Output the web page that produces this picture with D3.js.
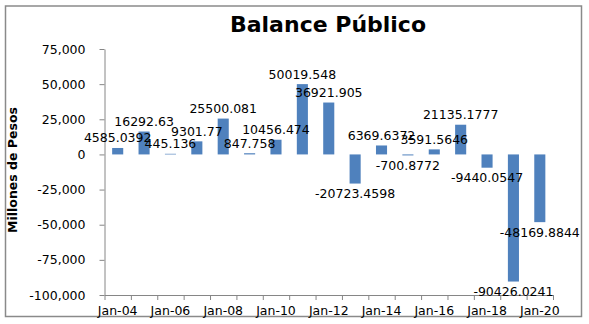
<!DOCTYPE html>
<html>
<head>
<meta charset="utf-8">
<script src="https://cdn.jsdelivr.net/npm/d3@7"></script>
<style>
  html, body { margin: 0; padding: 0; background: #fff; }
  svg { display: block; }
  text { font-family: "DejaVu Sans", Verdana, sans-serif; fill: #000; }
</style>
</head>
<body>
<svg id="chart" width="589" height="324"></svg>
<script>
// Annual public balance, millions of pesos
const years = [2004, 2005, 2006, 2007, 2008, 2009, 2010, 2011, 2012,
               2013, 2014, 2015, 2016, 2017, 2018, 2019, 2020];
const balance = [4585.0392, 16292.63, 445.136, 9301.77, 25500.081, 847.758,
                 10456.474, 50019.548, 36921.905, -20723.4598, 6369.6372,
                 -700.8772, 3591.5646, 21135.1777, -9440.0547, -90426.0241,
                 -48169.8844];
const yTicks = [-100000, -75000, -50000, -25000, 0, 25000, 50000, 75000];
const labelYears = [2004, 2006, 2008, 2010, 2012, 2014, 2016, 2018, 2020];

const title = "Balance Público";
const yTitle = "Millones de Pesos";

const svg = d3.select("#chart");
const axisColor = "#868686";
const barColor = "#4F81BD";

const plot = { left: 104.5, right: 553, top: 49, bottom: 295 };

// chart frame
svg.append("rect")
  .attr("x", 5.5).attr("y", 6)
  .attr("width", 576).attr("height", 310.5)
  .attr("fill", "#fff")
  .attr("stroke", "#8a8a8a")
  .attr("stroke-width", 1.5);

const x = d3.scaleBand()
  .domain(years)
  .range([plot.left, plot.right])
  .paddingInner(0.58)
  .paddingOuter(0.29);

const xEdge = d3.scaleLinear()
  .domain([years[0], years[years.length - 1] + 1])
  .range([plot.left, plot.right]);

const y = d3.scaleLinear()
  .domain([yTicks[0], yTicks[yTicks.length - 1]])
  .range([plot.bottom, plot.top]);

const fmt = v => d3.format(",")(v).replace("\u2212", "-");

// y axis
const gy = svg.append("g")
  .attr("transform", `translate(${plot.left},0)`)
  .call(d3.axisLeft(y).tickValues(yTicks).tickFormat(fmt)
    .tickSize(5).tickSizeOuter(0).tickPadding(14));
gy.selectAll("text").style("font-size", "12.5px").style("font-family", "DejaVu Sans, Verdana, sans-serif");

// x axis: tick marks at year boundaries
const gx = svg.append("g")
  .attr("transform", `translate(0,${plot.bottom})`)
  .call(d3.axisBottom(xEdge)
    .tickValues(d3.range(years[0], years[years.length - 1] + 2))
    .tickFormat("").tickSize(5).tickSizeOuter(0));

// x axis labels centred on their year slot
const gxl = svg.append("g")
  .attr("transform", `translate(0,${plot.bottom})`)
  .call(d3.axisBottom(x).tickValues(labelYears)
    .tickFormat(yr => "Jan-" + String(yr % 100).padStart(2, "0"))
    .tickSize(0).tickPadding(11));
gxl.select(".domain").remove();
gxl.selectAll("text").style("font-size", "12.5px").style("font-family", "DejaVu Sans, Verdana, sans-serif");

[gy, gx].forEach(g => {
  g.selectAll(".domain").attr("stroke", axisColor).attr("stroke-width", 1);
  g.selectAll(".tick line").attr("stroke", axisColor);
});

// bars
const data = years.map((yr, i) => ({ year: yr, value: balance[i] }));
svg.append("g").selectAll("rect")
  .data(data)
  .join("rect")
  .attr("x", d => x(d.year))
  .attr("width", x.bandwidth())
  .attr("y", d => Math.min(y(d.value), y(0)))
  .attr("height", d => Math.abs(y(d.value) - y(0)))
  .attr("fill", barColor);

// value labels beyond each bar end
svg.append("g").selectAll("text")
  .data(data)
  .join("text")
  .attr("x", d => x(d.year) + x.bandwidth() / 2)
  .attr("y", d => y(d.value) + (d.value >= 0 ? -10 : 10))
  .attr("text-anchor", "middle")
  .attr("dominant-baseline", "central")
  .style("font-size", "12.5px")
  .text(d => String(d.value));

// titles
svg.append("text")
  .attr("x", 328).attr("y", 32)
  .attr("text-anchor", "middle")
  .style("font-size", "22px")
  .style("font-weight", "bold")
  .text(title);

svg.append("text")
  .attr("transform", "translate(17,170) rotate(-90)")
  .attr("text-anchor", "middle")
  .style("font-size", "12.5px")
  .style("font-weight", "bold")
  .text(yTitle);
</script>
</body>
</html>
